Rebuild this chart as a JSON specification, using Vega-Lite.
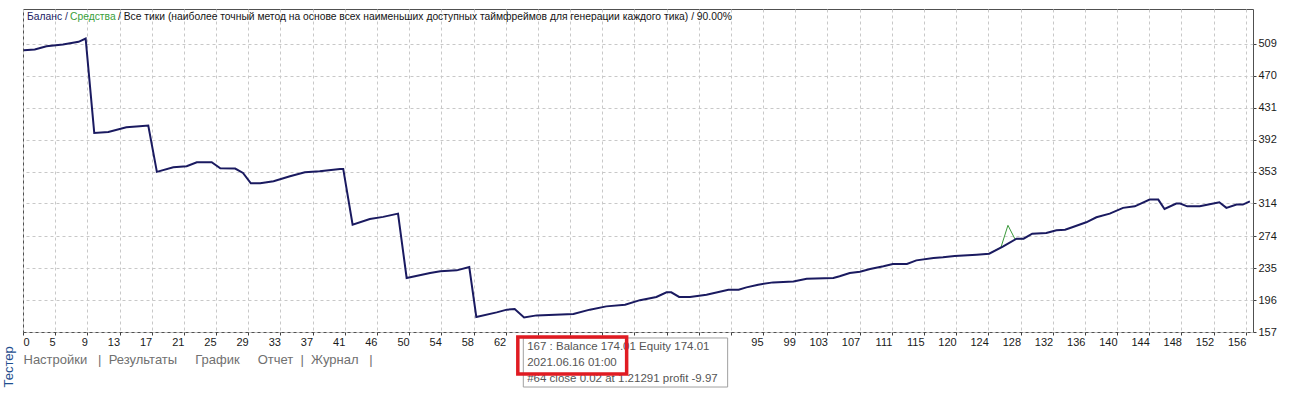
{
  "$schema": "https://vega.github.io/schema/vega-lite/v6.json",
  "width": 1230,
  "height": 323,
  "padding": {"left": 2, "top": 9, "right": 0, "bottom": 0},
  "background": "#ffffff",
  "title": {"text": "Тестер", "orient": "left", "anchor": "start", "fontSize": 13, "font": "Liberation Sans", "fontWeight": "normal", "color": "#1f4f8f", "offset": 4},
  "config": {
    "view": {"stroke": "#505050", "strokeWidth": 1},
    "axis": {"domain": false, "grid": true, "gridDash": [3, 3], "gridColor": "#c8c8c8", "tickSize": 3, "tickColor": "#404040", "labelFont": "Liberation Sans", "labelFontSize": 11, "labelColor": "#1a1a1a", "labelOverlap": false, "labelFlush": false, "labelBound": false}
  },
  "datasets": {
    "balance": [
      {"trade": 0.1, "value": 501.2}, {"trade": 1.5, "value": 502.0}, {"trade": 3.0, "value": 506.1}, {"trade": 5.1, "value": 508.1}, {"trade": 7.1, "value": 511.4}, {"trade": 8.0, "value": 515.5},
      {"trade": 9.1, "value": 400.2}, {"trade": 10.9, "value": 401.4}, {"trade": 13.2, "value": 407.1}, {"trade": 14.9, "value": 408.3}, {"trade": 16.0, "value": 409.1},
      {"trade": 17.1, "value": 352.6}, {"trade": 19.2, "value": 358.2}, {"trade": 20.9, "value": 359.4}, {"trade": 22.2, "value": 364.3}, {"trade": 24.1, "value": 364.3}, {"trade": 25.2, "value": 357.0}, {"trade": 27.1, "value": 356.6}, {"trade": 28.1, "value": 351.3},
      {"trade": 29.1, "value": 338.6}, {"trade": 30.3, "value": 338.6}, {"trade": 32.0, "value": 341.1}, {"trade": 34.1, "value": 347.2}, {"trade": 36.0, "value": 352.1}, {"trade": 37.9, "value": 353.3}, {"trade": 40.5, "value": 356.2}, {"trade": 40.9, "value": 356.2},
      {"trade": 42.1, "value": 288.1}, {"trade": 44.3, "value": 295.1}, {"trade": 46.0, "value": 297.6}, {"trade": 47.9, "value": 301.6},
      {"trade": 49.0, "value": 223.0}, {"trade": 52.0, "value": 229.1}, {"trade": 53.3, "value": 231.1}, {"trade": 55.4, "value": 232.3}, {"trade": 57.0, "value": 236.4},
      {"trade": 57.9, "value": 175.3}, {"trade": 60.5, "value": 181.0}, {"trade": 61.8, "value": 184.3}, {"trade": 62.8, "value": 185.1}, {"trade": 64.0, "value": 174.8}, {"trade": 65.6, "value": 177.3}, {"trade": 70.3, "value": 179.0},
      {"trade": 72.4, "value": 184.3}, {"trade": 74.5, "value": 188.3}, {"trade": 76.9, "value": 190.4}, {"trade": 78.8, "value": 195.9}, {"trade": 80.9, "value": 199.8}, {"trade": 82.2, "value": 205.4}, {"trade": 82.8, "value": 205.4},
      {"trade": 83.8, "value": 199.8}, {"trade": 85.2, "value": 199.8}, {"trade": 87.3, "value": 202.6}, {"trade": 90.1, "value": 208.7}, {"trade": 91.4, "value": 208.7}, {"trade": 92.4, "value": 211.5}, {"trade": 93.9, "value": 214.8},
      {"trade": 95.8, "value": 217.6}, {"trade": 98.4, "value": 218.8}, {"trade": 100.1, "value": 222.1}, {"trade": 103.5, "value": 223.0}, {"trade": 104.3, "value": 225.0}, {"trade": 105.6, "value": 229.1}, {"trade": 106.9, "value": 230.7},
      {"trade": 108.2, "value": 234.0}, {"trade": 109.9, "value": 237.2}, {"trade": 111.1, "value": 240.1}, {"trade": 112.9, "value": 240.1}, {"trade": 114.1, "value": 244.5}, {"trade": 116.3, "value": 247.4}, {"trade": 117.5, "value": 248.2},
      {"trade": 119.0, "value": 249.9}, {"trade": 121.8, "value": 251.5}, {"trade": 123.4, "value": 252.7}, {"trade": 125.2, "value": 261.6}, {"trade": 126.9, "value": 271.0}, {"trade": 127.8, "value": 271.0}, {"trade": 128.9, "value": 277.1},
      {"trade": 130.7, "value": 278.0}, {"trade": 132.0, "value": 281.2}, {"trade": 133.1, "value": 282.0}, {"trade": 134.1, "value": 285.3}, {"trade": 135.8, "value": 291.0}, {"trade": 137.1, "value": 297.1}, {"trade": 138.8, "value": 301.6},
      {"trade": 140.5, "value": 308.6}, {"trade": 142.0, "value": 310.5}, {"trade": 143.9, "value": 318.7}, {"trade": 145.0, "value": 318.7}, {"trade": 145.8, "value": 307.3}, {"trade": 147.3, "value": 313.8}, {"trade": 147.8, "value": 313.8},
      {"trade": 148.7, "value": 310.5}, {"trade": 150.3, "value": 310.5}, {"trade": 151.4, "value": 312.6}, {"trade": 152.8, "value": 315.4}, {"trade": 153.7, "value": 308.6}, {"trade": 155.0, "value": 312.6}, {"trade": 155.8, "value": 312.6}, {"trade": 156.7, "value": 316.6}
    ],
    "equity": [
      {"trade": 123.4, "value": 252.7}, {"trade": 124.9, "value": 260.2}, {"trade": 125.8, "value": 287.3}, {"trade": 126.7, "value": 270.5}, {"trade": 127.8, "value": 271.0}
    ]
  },
  "layer": [
    {
      "data": {"name": "equity"},
      "mark": {"type": "line", "color": "#3c9a3c", "strokeWidth": 1},
      "encoding": {
        "x": {"field": "trade", "type": "quantitative", "scale": {"domain": [0, 157.1], "nice": false, "zero": false},
          "axis": {"grid": true, "values": [0, 4.11, 8.22, 12.33, 16.44, 20.55, 24.66, 28.77, 32.88, 36.99, 41.1, 45.21, 49.32, 53.43, 57.54, 61.65, 65.76, 69.87, 73.98, 78.09, 82.2, 86.31, 90.42, 94.53, 98.64, 102.75, 106.86, 110.97, 115.08, 119.19, 123.3, 127.41, 131.52, 135.63, 139.74, 143.85, 147.96, 152.07, 156.18], "labelExpr": "datum.value > 63 && datum.value < 92 ? '' : '' + [0,5,9,13,17,21,25,29,33,37,41,46,50,54,58,62,66,70,74,78,83,87,91,95,99,103,107,111,115,120,124,128,132,136,140,144,148,152,156][round(datum.value/4.11)]", "labelAlign": {"condition": {"test": "datum.value == 0", "value": "left"}, "value": "right"}, "labelOverlap": false, "labelPadding": 1, "title": "\u00a0\u00a0\u00a0Настройки\u00a0\u00a0\u00a0|\u00a0\u00a0Результаты\u00a0\u00a0\u00a0\u00a0\u00a0График\u00a0\u00a0\u00a0\u00a0\u00a0Отчет\u00a0\u00a0|\u00a0\u00a0Журнал\u00a0\u00a0\u00a0|", "titleAnchor": "start", "titleFont": "Liberation Sans", "titleFontSize": 13, "titleFontWeight": "normal", "titleColor": "#707070", "titlePadding": 6}},
        "y": {"field": "value", "type": "quantitative", "scale": {"domain": [157, 551.5], "nice": false, "zero": false},
          "axis": {"grid": true, "orient": "right", "values": [157, 196, 235, 274, 314, 353, 392, 431, 470, 509], "labelOverlap": false, "labelPadding": 2, "title": null}}
      }
    },
    {
      "data": {"name": "balance"},
      "mark": {"type": "line", "color": "#1a1a60", "strokeWidth": 2},
      "encoding": {
        "x": {"field": "trade", "type": "quantitative", "scale": {"domain": [0, 157.1], "nice": false, "zero": false},
          "axis": {"grid": true, "values": [0, 4.11, 8.22, 12.33, 16.44, 20.55, 24.66, 28.77, 32.88, 36.99, 41.1, 45.21, 49.32, 53.43, 57.54, 61.65, 65.76, 69.87, 73.98, 78.09, 82.2, 86.31, 90.42, 94.53, 98.64, 102.75, 106.86, 110.97, 115.08, 119.19, 123.3, 127.41, 131.52, 135.63, 139.74, 143.85, 147.96, 152.07, 156.18], "labelExpr": "datum.value > 63 && datum.value < 92 ? '' : '' + [0,5,9,13,17,21,25,29,33,37,41,46,50,54,58,62,66,70,74,78,83,87,91,95,99,103,107,111,115,120,124,128,132,136,140,144,148,152,156][round(datum.value/4.11)]", "labelAlign": {"condition": {"test": "datum.value == 0", "value": "left"}, "value": "right"}, "labelOverlap": false, "labelPadding": 1, "title": "\u00a0\u00a0\u00a0Настройки\u00a0\u00a0\u00a0|\u00a0\u00a0Результаты\u00a0\u00a0\u00a0\u00a0\u00a0График\u00a0\u00a0\u00a0\u00a0\u00a0Отчет\u00a0\u00a0|\u00a0\u00a0Журнал\u00a0\u00a0\u00a0|", "titleAnchor": "start", "titleFont": "Liberation Sans", "titleFontSize": 13, "titleFontWeight": "normal", "titleColor": "#707070", "titlePadding": 6}},
        "y": {"field": "value", "type": "quantitative", "scale": {"domain": [157, 551.5], "nice": false, "zero": false},
          "axis": {"grid": true, "orient": "right", "values": [157, 196, 235, 274, 314, 353, 392, 431, 470, 509], "labelOverlap": false, "labelPadding": 2, "title": null}}
      }
    },
    {
      "data": {"values": [{}]},
      "mark": {"type": "text", "text": "Баланс /", "align": "left", "baseline": "top", "dx": 4, "dy": 3, "font": "Liberation Sans", "fontSize": 10.3, "color": "#1c1c64"},
      "encoding": {
        "x": {"datum": 0, "type": "quantitative", "scale": {"domain": [0, 157.1], "nice": false, "zero": false},
          "axis": {"grid": true, "values": [0, 4.11, 8.22, 12.33, 16.44, 20.55, 24.66, 28.77, 32.88, 36.99, 41.1, 45.21, 49.32, 53.43, 57.54, 61.65, 65.76, 69.87, 73.98, 78.09, 82.2, 86.31, 90.42, 94.53, 98.64, 102.75, 106.86, 110.97, 115.08, 119.19, 123.3, 127.41, 131.52, 135.63, 139.74, 143.85, 147.96, 152.07, 156.18], "labelExpr": "datum.value > 63 && datum.value < 92 ? '' : '' + [0,5,9,13,17,21,25,29,33,37,41,46,50,54,58,62,66,70,74,78,83,87,91,95,99,103,107,111,115,120,124,128,132,136,140,144,148,152,156][round(datum.value/4.11)]", "labelAlign": {"condition": {"test": "datum.value == 0", "value": "left"}, "value": "right"}, "labelOverlap": false, "labelPadding": 1, "title": "\u00a0\u00a0\u00a0Настройки\u00a0\u00a0\u00a0|\u00a0\u00a0Результаты\u00a0\u00a0\u00a0\u00a0\u00a0График\u00a0\u00a0\u00a0\u00a0\u00a0Отчет\u00a0\u00a0|\u00a0\u00a0Журнал\u00a0\u00a0\u00a0|", "titleAnchor": "start", "titleFont": "Liberation Sans", "titleFontSize": 13, "titleFontWeight": "normal", "titleColor": "#707070", "titlePadding": 6}},
        "y": {"datum": 551.5, "type": "quantitative", "scale": {"domain": [157, 551.5], "nice": false, "zero": false},
          "axis": {"grid": true, "orient": "right", "values": [157, 196, 235, 274, 314, 353, 392, 431, 470, 509], "labelOverlap": false, "labelPadding": 2, "title": null}}
      }
    },
    {
      "data": {"values": [{}]},
      "mark": {"type": "text", "text": "Средства", "align": "left", "baseline": "top", "dx": 47, "dy": 3, "font": "Liberation Sans", "fontSize": 10.3, "color": "#3aa03a"},
      "encoding": {
        "x": {"datum": 0, "type": "quantitative", "scale": {"domain": [0, 157.1], "nice": false, "zero": false},
          "axis": {"grid": true, "values": [0, 4.11, 8.22, 12.33, 16.44, 20.55, 24.66, 28.77, 32.88, 36.99, 41.1, 45.21, 49.32, 53.43, 57.54, 61.65, 65.76, 69.87, 73.98, 78.09, 82.2, 86.31, 90.42, 94.53, 98.64, 102.75, 106.86, 110.97, 115.08, 119.19, 123.3, 127.41, 131.52, 135.63, 139.74, 143.85, 147.96, 152.07, 156.18], "labelExpr": "datum.value > 63 && datum.value < 92 ? '' : '' + [0,5,9,13,17,21,25,29,33,37,41,46,50,54,58,62,66,70,74,78,83,87,91,95,99,103,107,111,115,120,124,128,132,136,140,144,148,152,156][round(datum.value/4.11)]", "labelAlign": {"condition": {"test": "datum.value == 0", "value": "left"}, "value": "right"}, "labelOverlap": false, "labelPadding": 1, "title": "\u00a0\u00a0\u00a0Настройки\u00a0\u00a0\u00a0|\u00a0\u00a0Результаты\u00a0\u00a0\u00a0\u00a0\u00a0График\u00a0\u00a0\u00a0\u00a0\u00a0Отчет\u00a0\u00a0|\u00a0\u00a0Журнал\u00a0\u00a0\u00a0|", "titleAnchor": "start", "titleFont": "Liberation Sans", "titleFontSize": 13, "titleFontWeight": "normal", "titleColor": "#707070", "titlePadding": 6}},
        "y": {"datum": 551.5, "type": "quantitative", "scale": {"domain": [157, 551.5], "nice": false, "zero": false},
          "axis": {"grid": true, "orient": "right", "values": [157, 196, 235, 274, 314, 353, 392, 431, 470, 509], "labelOverlap": false, "labelPadding": 2, "title": null}}
      }
    },
    {
      "data": {"values": [{}]},
      "mark": {"type": "text", "text": "/ Все тики (наиболее точный метод на основе всех наименьших доступных таймфреймов для генерации каждого тика) / 90.00%", "align": "left", "baseline": "top", "dx": 95, "dy": 3, "font": "Liberation Sans", "fontSize": 10.3, "color": "#141414"},
      "encoding": {
        "x": {"datum": 0, "type": "quantitative", "scale": {"domain": [0, 157.1], "nice": false, "zero": false},
          "axis": {"grid": true, "values": [0, 4.11, 8.22, 12.33, 16.44, 20.55, 24.66, 28.77, 32.88, 36.99, 41.1, 45.21, 49.32, 53.43, 57.54, 61.65, 65.76, 69.87, 73.98, 78.09, 82.2, 86.31, 90.42, 94.53, 98.64, 102.75, 106.86, 110.97, 115.08, 119.19, 123.3, 127.41, 131.52, 135.63, 139.74, 143.85, 147.96, 152.07, 156.18], "labelExpr": "datum.value > 63 && datum.value < 92 ? '' : '' + [0,5,9,13,17,21,25,29,33,37,41,46,50,54,58,62,66,70,74,78,83,87,91,95,99,103,107,111,115,120,124,128,132,136,140,144,148,152,156][round(datum.value/4.11)]", "labelAlign": {"condition": {"test": "datum.value == 0", "value": "left"}, "value": "right"}, "labelOverlap": false, "labelPadding": 1, "title": "\u00a0\u00a0\u00a0Настройки\u00a0\u00a0\u00a0|\u00a0\u00a0Результаты\u00a0\u00a0\u00a0\u00a0\u00a0График\u00a0\u00a0\u00a0\u00a0\u00a0Отчет\u00a0\u00a0|\u00a0\u00a0Журнал\u00a0\u00a0\u00a0|", "titleAnchor": "start", "titleFont": "Liberation Sans", "titleFontSize": 13, "titleFontWeight": "normal", "titleColor": "#707070", "titlePadding": 6}},
        "y": {"datum": 551.5, "type": "quantitative", "scale": {"domain": [157, 551.5], "nice": false, "zero": false},
          "axis": {"grid": true, "orient": "right", "values": [157, 196, 235, 274, 314, 353, 392, 431, 470, 509], "labelOverlap": false, "labelPadding": 2, "title": null}}
      }
    },
    {
      "data": {"values": [{}]},
      "mark": {"type": "rect", "fill": "#ffffff", "stroke": "#a0a0a0", "strokeWidth": 1},
      "encoding": {
        "x": {"datum": 63.9, "type": "quantitative", "scale": {"domain": [0, 157.1], "nice": false, "zero": false},
          "axis": {"grid": true, "values": [0, 4.11, 8.22, 12.33, 16.44, 20.55, 24.66, 28.77, 32.88, 36.99, 41.1, 45.21, 49.32, 53.43, 57.54, 61.65, 65.76, 69.87, 73.98, 78.09, 82.2, 86.31, 90.42, 94.53, 98.64, 102.75, 106.86, 110.97, 115.08, 119.19, 123.3, 127.41, 131.52, 135.63, 139.74, 143.85, 147.96, 152.07, 156.18], "labelExpr": "datum.value > 63 && datum.value < 92 ? '' : '' + [0,5,9,13,17,21,25,29,33,37,41,46,50,54,58,62,66,70,74,78,83,87,91,95,99,103,107,111,115,120,124,128,132,136,140,144,148,152,156][round(datum.value/4.11)]", "labelAlign": {"condition": {"test": "datum.value == 0", "value": "left"}, "value": "right"}, "labelOverlap": false, "labelPadding": 1, "title": "\u00a0\u00a0\u00a0Настройки\u00a0\u00a0\u00a0|\u00a0\u00a0Результаты\u00a0\u00a0\u00a0\u00a0\u00a0График\u00a0\u00a0\u00a0\u00a0\u00a0Отчет\u00a0\u00a0|\u00a0\u00a0Журнал\u00a0\u00a0\u00a0|", "titleAnchor": "start", "titleFont": "Liberation Sans", "titleFontSize": 13, "titleFontWeight": "normal", "titleColor": "#707070", "titlePadding": 6}},
        "x2": {"datum": 90.0},
        "y": {"datum": 149.7, "type": "quantitative", "scale": {"domain": [157, 551.5], "nice": false, "zero": false},
          "axis": {"grid": true, "orient": "right", "values": [157, 196, 235, 274, 314, 353, 392, 431, 470, 509], "labelOverlap": false, "labelPadding": 2, "title": null}},
        "y2": {"datum": 89.8}
      }
    },
    {
      "data": {"values": [{}]},
      "mark": {"type": "text", "text": ["167 : Balance 174.01 Equity 174.01", "2021.06.16 01:00", "#64 close 0.02 at 1.21291 profit -9.97"], "align": "left", "baseline": "top", "lineHeight": 16, "font": "Liberation Sans", "fontSize": 11.5, "color": "#555555"},
      "encoding": {
        "x": {"datum": 64.4, "type": "quantitative", "scale": {"domain": [0, 157.1], "nice": false, "zero": false},
          "axis": {"grid": true, "values": [0, 4.11, 8.22, 12.33, 16.44, 20.55, 24.66, 28.77, 32.88, 36.99, 41.1, 45.21, 49.32, 53.43, 57.54, 61.65, 65.76, 69.87, 73.98, 78.09, 82.2, 86.31, 90.42, 94.53, 98.64, 102.75, 106.86, 110.97, 115.08, 119.19, 123.3, 127.41, 131.52, 135.63, 139.74, 143.85, 147.96, 152.07, 156.18], "labelExpr": "datum.value > 63 && datum.value < 92 ? '' : '' + [0,5,9,13,17,21,25,29,33,37,41,46,50,54,58,62,66,70,74,78,83,87,91,95,99,103,107,111,115,120,124,128,132,136,140,144,148,152,156][round(datum.value/4.11)]", "labelAlign": {"condition": {"test": "datum.value == 0", "value": "left"}, "value": "right"}, "labelOverlap": false, "labelPadding": 1, "title": "\u00a0\u00a0\u00a0Настройки\u00a0\u00a0\u00a0|\u00a0\u00a0Результаты\u00a0\u00a0\u00a0\u00a0\u00a0График\u00a0\u00a0\u00a0\u00a0\u00a0Отчет\u00a0\u00a0|\u00a0\u00a0Журнал\u00a0\u00a0\u00a0|", "titleAnchor": "start", "titleFont": "Liberation Sans", "titleFontSize": 13, "titleFontWeight": "normal", "titleColor": "#707070", "titlePadding": 6}},
        "y": {"datum": 146.5, "type": "quantitative", "scale": {"domain": [157, 551.5], "nice": false, "zero": false},
          "axis": {"grid": true, "orient": "right", "values": [157, 196, 235, 274, 314, 353, 392, 431, 470, 509], "labelOverlap": false, "labelPadding": 2, "title": null}}
      }
    },
    {
      "data": {"values": [{}]},
      "mark": {"type": "rect", "fill": null, "fillOpacity": 0, "stroke": "#e01b22", "strokeWidth": 3.5},
      "encoding": {
        "x": {"datum": 63.2, "type": "quantitative", "scale": {"domain": [0, 157.1], "nice": false, "zero": false},
          "axis": {"grid": true, "values": [0, 4.11, 8.22, 12.33, 16.44, 20.55, 24.66, 28.77, 32.88, 36.99, 41.1, 45.21, 49.32, 53.43, 57.54, 61.65, 65.76, 69.87, 73.98, 78.09, 82.2, 86.31, 90.42, 94.53, 98.64, 102.75, 106.86, 110.97, 115.08, 119.19, 123.3, 127.41, 131.52, 135.63, 139.74, 143.85, 147.96, 152.07, 156.18], "labelExpr": "datum.value > 63 && datum.value < 92 ? '' : '' + [0,5,9,13,17,21,25,29,33,37,41,46,50,54,58,62,66,70,74,78,83,87,91,95,99,103,107,111,115,120,124,128,132,136,140,144,148,152,156][round(datum.value/4.11)]", "labelAlign": {"condition": {"test": "datum.value == 0", "value": "left"}, "value": "right"}, "labelOverlap": false, "labelPadding": 1, "title": "\u00a0\u00a0\u00a0Настройки\u00a0\u00a0\u00a0|\u00a0\u00a0Результаты\u00a0\u00a0\u00a0\u00a0\u00a0График\u00a0\u00a0\u00a0\u00a0\u00a0Отчет\u00a0\u00a0|\u00a0\u00a0Журнал\u00a0\u00a0\u00a0|", "titleAnchor": "start", "titleFont": "Liberation Sans", "titleFontSize": 13, "titleFontWeight": "normal", "titleColor": "#707070", "titlePadding": 6}},
        "x2": {"datum": 77.1},
        "y": {"datum": 150.9, "type": "quantitative", "scale": {"domain": [157, 551.5], "nice": false, "zero": false},
          "axis": {"grid": true, "orient": "right", "values": [157, 196, 235, 274, 314, 353, 392, 431, 470, 509], "labelOverlap": false, "labelPadding": 2, "title": null}},
        "y2": {"datum": 105.7}
      }
    }
  ]
}
